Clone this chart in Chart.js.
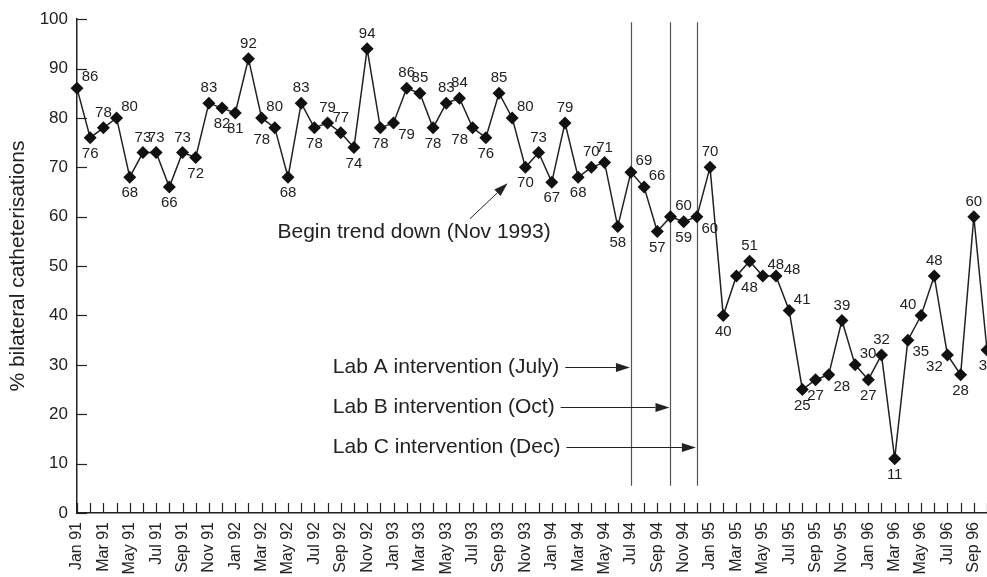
<!DOCTYPE html>
<html>
<head>
<meta charset="utf-8">
<script src="https://cdn.jsdelivr.net/npm/chart.js@4.4.0/dist/chart.umd.min.js"></script>
<style>
  html, body { margin: 0; padding: 0; background: #fff; }
  #wrap { width: 987px; height: 577px; position: relative; }
</style>
</head>
<body>
<div id="wrap"><canvas id="myChart"></canvas></div>
<script>
var months = ['Jan 91','Feb 91','Mar 91','Apr 91','May 91','Jun 91','Jul 91','Aug 91','Sep 91','Oct 91','Nov 91','Dec 91',
  'Jan 92','Feb 92','Mar 92','Apr 92','May 92','Jun 92','Jul 92','Aug 92','Sep 92','Oct 92','Nov 92','Dec 92',
  'Jan 93','Feb 93','Mar 93','Apr 93','May 93','Jun 93','Jul 93','Aug 93','Sep 93','Oct 93','Nov 93','Dec 93',
  'Jan 94','Feb 94','Mar 94','Apr 94','May 94','Jun 94','Jul 94','Aug 94','Sep 94','Oct 94','Nov 94','Dec 94',
  'Jan 95','Feb 95','Mar 95','Apr 95','May 95','Jun 95','Jul 95','Aug 95','Sep 95','Oct 95','Nov 95','Dec 95',
  'Jan 96','Feb 96','Mar 96','Apr 96','May 96','Jun 96','Jul 96','Aug 96','Sep 96','Oct 96'];

var bilateral = [86,76,78,80,68,73,73,66,73,72,83,82,
  81,92,80,78,68,83,78,79,77,74,94,78,
  79,86,85,78,83,84,78,76,85,80,70,73,
  67,79,68,70,71,58,69,66,57,60,59,60,
  70,40,48,51,48,48,41,25,27,28,39,30,
  27,32,11,35,40,48,32,28,60,33];

var yTicks = [0,10,20,30,40,50,60,70,80,90,100];

// where each value label sits relative to its point
var labelPos = ['tr','b','t','tr','b','t','t','b','t','b','t','b',
  'b','t','tr','bl','b','t','b','t','t','b','t','b',
  'br','t','t','b','t','t','bl','b','t','tr','b','t',
  'b','t','b','t','t','b','tr','tr','b','tr','b','br',
  't','b','br','t','tr','r','tr','b','b','br','t','tr',
  'b','t','b','br','tl','t','bl','b','t','b'];
var offsets = { t:[0,-15], b:[0,16], tr:[13,-11], tl:[-13,-11], br:[13,12], bl:[-13,12], r:[16,-6] };

// intervention months (index into months) and where their captions go
var interventions = [
  { text: 'Lab A intervention (July)', month: 42, at: 29.5 },
  { text: 'Lab B intervention (Oct)',  month: 45, at: 21.4 },
  { text: 'Lab C intervention (Dec)',  month: 47, at: 13.3 }
];
var captionX = 19.4;
var trend = { text: 'Begin trend down (Nov 1993)', x: 15.2, y: 56.8, from: [29.8, 59.6], to: [32.65, 66.8] };

var FONT = '"Liberation Sans", Arial, Helvetica, sans-serif';
var INK = '#222';

function arrow(ctx, x1, y1, x2, y2) {
  var ang = Math.atan2(y2 - y1, x2 - x1), len = 14, hw = 4.5;
  ctx.beginPath();
  ctx.moveTo(x1, y1);
  ctx.lineTo(x2 - Math.cos(ang) * len, y2 - Math.sin(ang) * len);
  ctx.stroke();
  ctx.beginPath();
  ctx.moveTo(x2, y2);
  ctx.lineTo(x2 - Math.cos(ang) * len - Math.sin(ang) * hw, y2 - Math.sin(ang) * len + Math.cos(ang) * hw);
  ctx.lineTo(x2 - Math.cos(ang) * len + Math.sin(ang) * hw, y2 - Math.sin(ang) * len - Math.cos(ang) * hw);
  ctx.closePath();
  ctx.fill();
}

var behind = {
  id: 'behind',
  beforeDatasetsDraw: function(chart) {
    var ctx = chart.ctx, xs = chart.scales.x, ys = chart.scales.y;
    ctx.save();
    ctx.strokeStyle = '#555';
    ctx.lineWidth = 1.2;
    interventions.forEach(function(iv) {
      var x = Math.round(xs.getPixelForValue(iv.month)) + 0.5;
      ctx.beginPath();
      ctx.moveTo(x, ys.getPixelForValue(99.4));
      ctx.lineTo(x, ys.getPixelForValue(5.5));
      ctx.stroke();
    });
    ctx.restore();
  }
};

var overlay = {
  id: 'overlay',
  afterDatasetsDraw: function(chart) {
    var ctx = chart.ctx, xs = chart.scales.x, ys = chart.scales.y, a = chart.chartArea;
    ctx.save();
    // inward tick marks
    ctx.strokeStyle = INK;
    ctx.lineWidth = 1.2;
    for (var i = 0; i < months.length; i++) {
      var x = Math.round(xs.getPixelForValue(i)) + 0.5;
      ctx.beginPath(); ctx.moveTo(x, a.bottom); ctx.lineTo(x, a.bottom - 10); ctx.stroke();
    }
    yTicks.forEach(function(v) {
      var y = Math.round(ys.getPixelForValue(v)) + 0.5;
      ctx.beginPath(); ctx.moveTo(a.left, y); ctx.lineTo(a.left + 10, y); ctx.stroke();
    });

    // value labels
    var meta = chart.getDatasetMeta(0);
    ctx.fillStyle = INK;
    ctx.font = '15px ' + FONT;
    ctx.textAlign = 'center';
    ctx.textBaseline = 'middle';
    meta.data.forEach(function(pt, i) {
      var o = offsets[labelPos[i]];
      ctx.fillText(String(bilateral[i]), pt.x + o[0], pt.y + o[1]);
    });

    // captions with arrows
    ctx.font = '21px ' + FONT;
    ctx.textAlign = 'left';
    ctx.strokeStyle = INK;
    ctx.lineWidth = 1;
    interventions.forEach(function(iv) {
      var tx = xs.getPixelForValue(captionX), ty = ys.getPixelForValue(iv.at);
      ctx.fillText(iv.text, tx, ty);
      var end = tx + ctx.measureText(iv.text).width + 6;
      arrow(ctx, end, Math.round(ty) + 0.5, xs.getPixelForValue(iv.month) - 1, Math.round(ty) + 0.5);
    });
    ctx.fillText(trend.text, xs.getPixelForValue(trend.x), ys.getPixelForValue(trend.y));
    arrow(ctx, xs.getPixelForValue(trend.from[0]), ys.getPixelForValue(trend.from[1]),
      xs.getPixelForValue(trend.to[0]), ys.getPixelForValue(trend.to[1]));
    ctx.restore();
  }
};

var ctx = document.getElementById('myChart').getContext('2d');
var myChart = new Chart(ctx, {
  type: 'line',
  data: {
    labels: months,
    datasets: [{
      data: bilateral,
      borderColor: INK,
      borderWidth: 1.5,
      backgroundColor: '#111',
      pointBackgroundColor: '#111',
      pointBorderColor: '#111',
      pointBorderWidth: 0,
      pointStyle: 'rectRot',
      pointRadius: 6.5,
      tension: 0,
      fill: false,
      clip: false
    }]
  },
  options: {
    responsive: true,
    maintainAspectRatio: false,
    animation: false,
    layout: { autoPadding: false, padding: { top: 19, right: 0, left: 0, bottom: 0 } },
    plugins: {
      legend: { display: false },
      tooltip: { enabled: false },
      title: { display: false }
    },
    scales: {
      x: {
        type: 'category',
        offset: false,
        grid: { display: false, drawTicks: false },
        border: { display: true, color: INK, width: 1.5 },
        ticks: {
          autoSkip: false,
          maxRotation: 90,
          minRotation: 90,
          padding: 9,
          color: INK,
          font: { family: FONT, size: 16 },
          callback: function(v, i) { return i % 2 === 0 ? months[i] : ''; }
        },
        afterFit: function(scale) {
          scale.height = 64;
          scale.paddingLeft = 0;
          scale.paddingRight = 0;
        }
      },
      y: {
        min: 0,
        max: 100,
        grid: { display: false, drawTicks: false },
        border: { display: true, color: INK, width: 1.5 },
        ticks: {
          stepSize: 10,
          padding: 9,
          color: INK,
          font: { family: FONT, size: 17 }
        },
        title: {
          display: true,
          text: '% bilateral catheterisations',
          color: INK,
          font: { family: FONT, size: 21 },
          padding: { top: 6, bottom: 0 }
        },
        afterFit: function(scale) { scale.width = 77; }
      }
    }
  },
  plugins: [behind, overlay]
});
</script>
</body>
</html>
